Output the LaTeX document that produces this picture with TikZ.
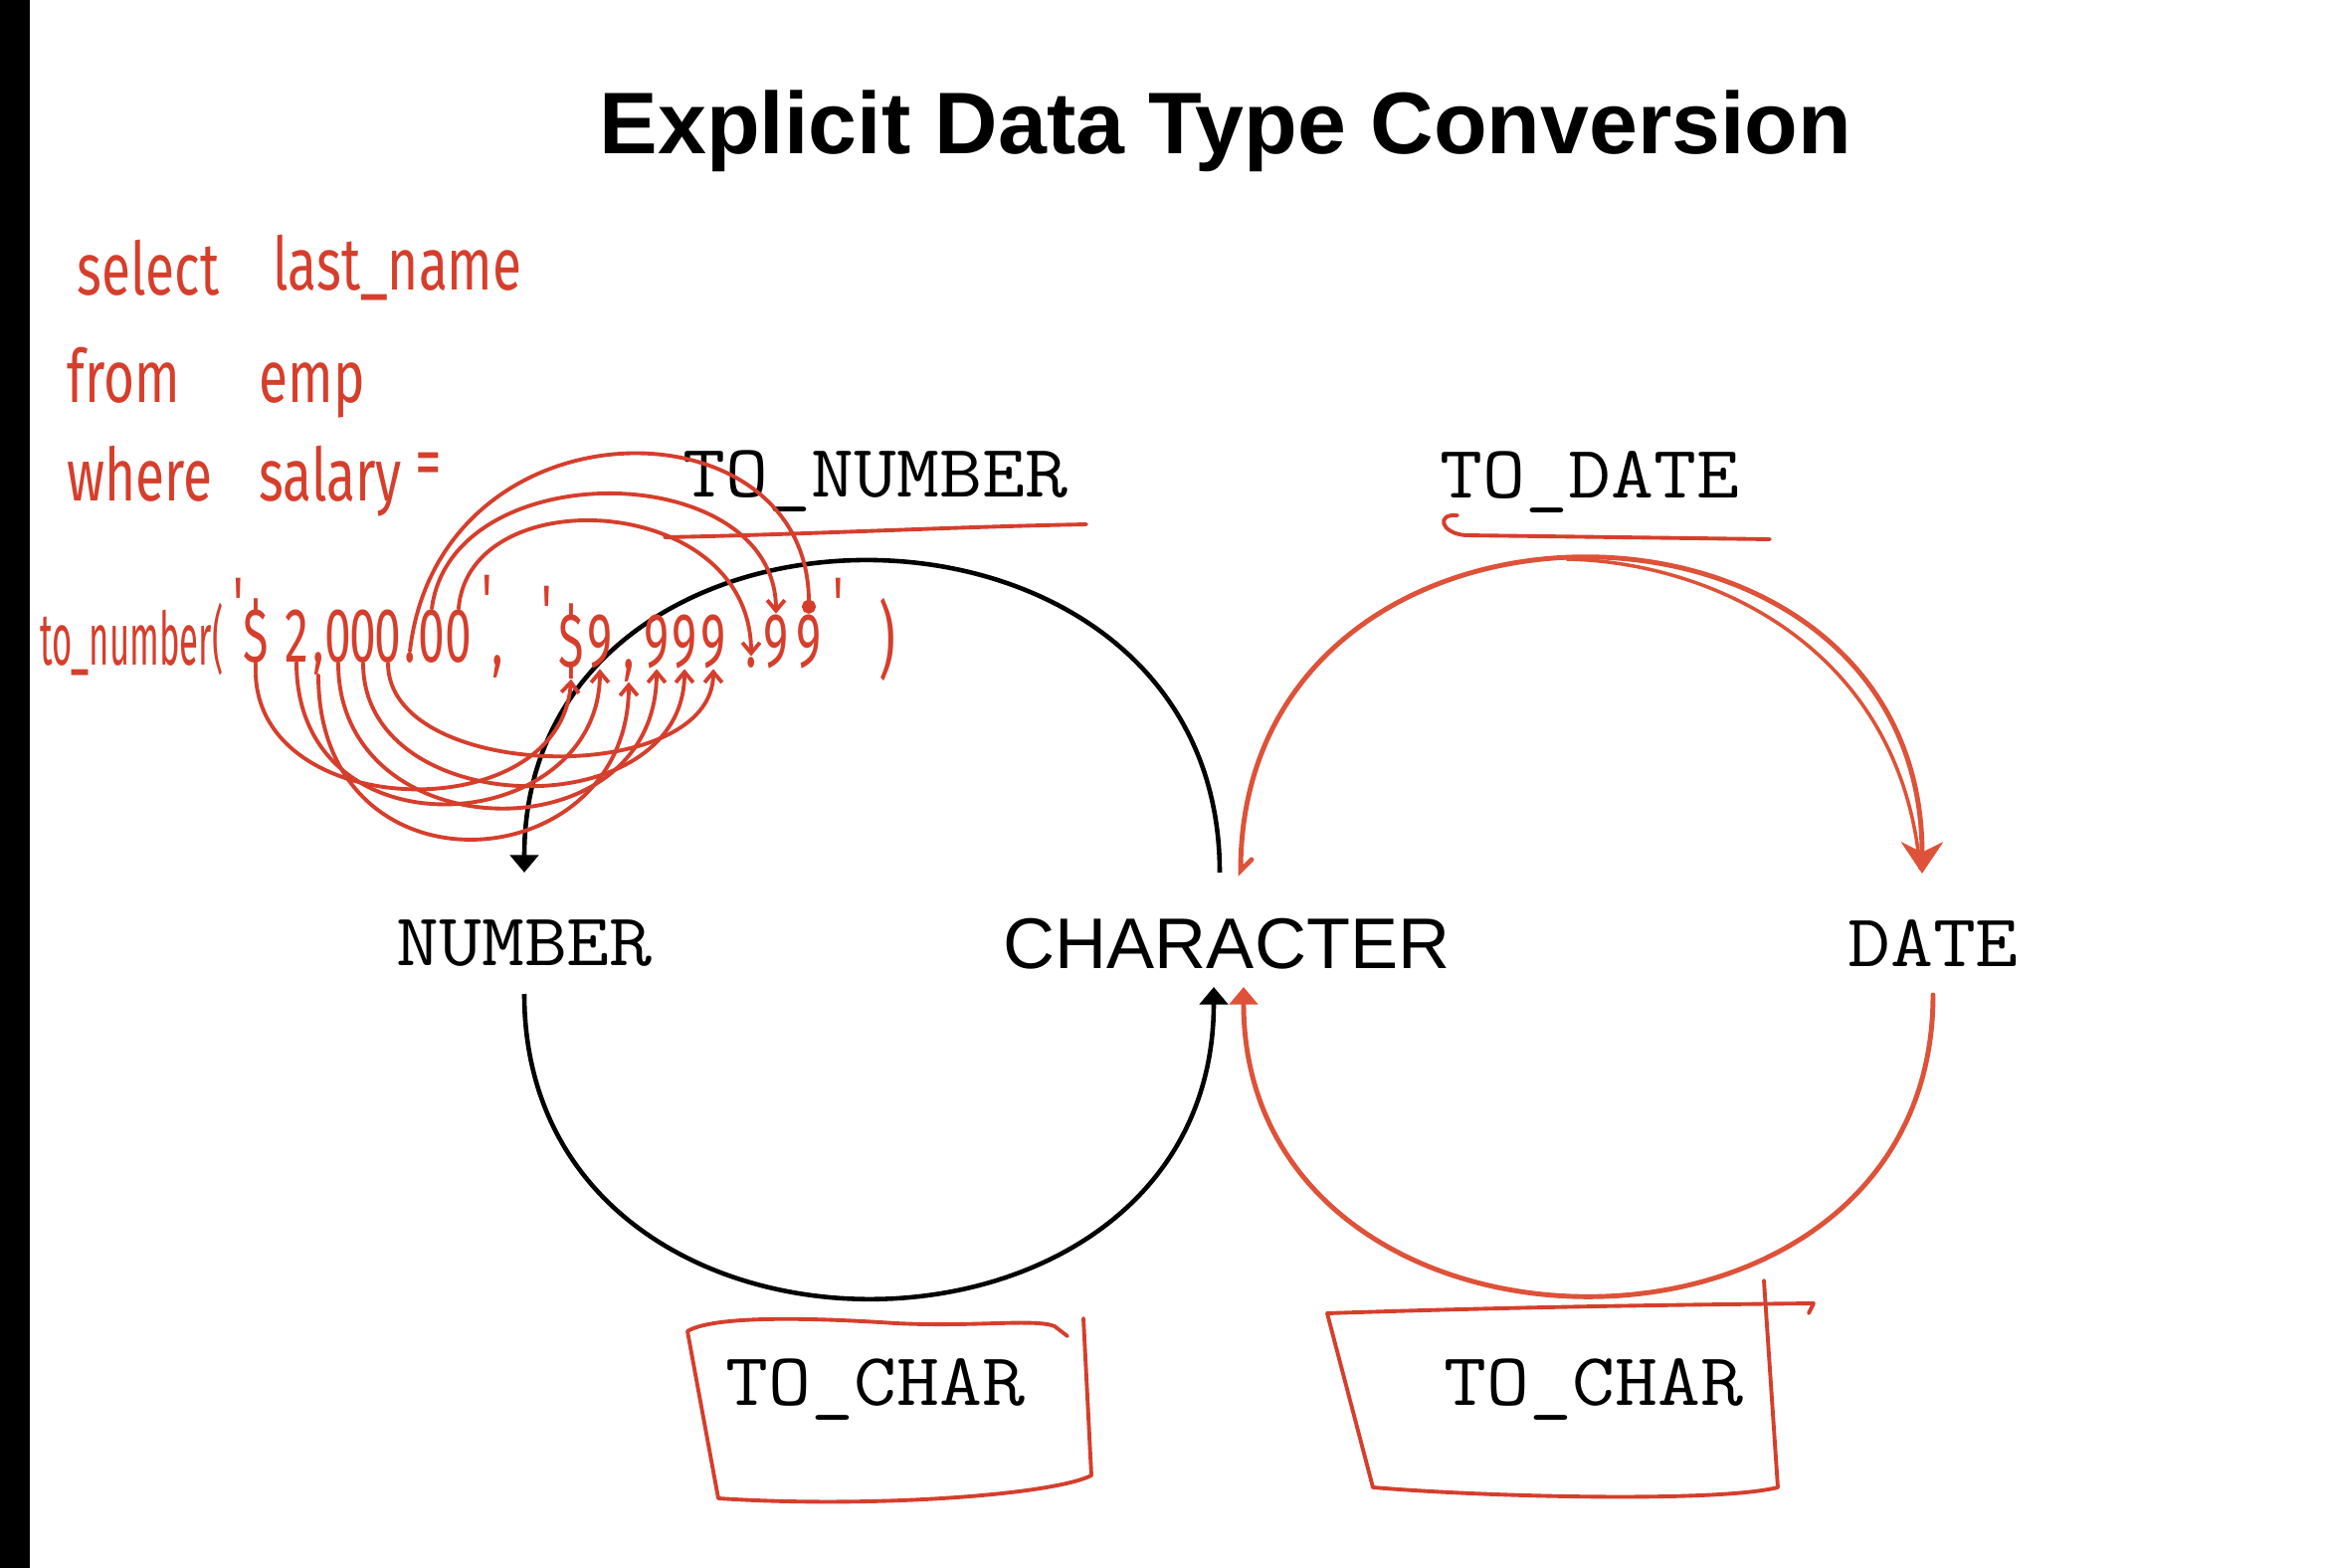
\documentclass[tikz,border=0pt]{standalone}
\usepackage{fontspec}
\usetikzlibrary{arrows.meta,calc}
\newfontfamily\arialfont{Liberation Sans}
\newfontfamily\handfont{Fira Sans}
\definecolor{handred}{RGB}{214,62,44}
\definecolor{arcred}{RGB}{221,82,56}

\begin{document}
\begin{tikzpicture}[x=0.01cm,y=-0.01cm]
    \tikzset{%
      headline/.style={font=\arialfont\bfseries\fontsize{25}{30}\selectfont,
        inner sep=0pt, anchor=base},
      kind/.style={font=\arialfont\fontsize{20.5}{24}\selectfont,
        inner sep=0pt, anchor=base},
      mono/.style={font=\ttfamily\fontsize{23.7}{28}\selectfont,
        inner sep=0pt, anchor=base, yscale=0.9},
      hand/.style={handred, font=\handfont\fontsize{21}{25}\selectfont,
        inner sep=0pt, anchor=base west, xscale=0.72},
      hchar/.style={handred, font=\handfont\fontsize{22}{26}\selectfont,
        inner sep=0pt, anchor=base, xscale=0.62},
      blackarc/.style={line width=1.3pt, -{Triangle[length=5pt,width=8pt]}},
      redarc/.style={arcred, line width=1.4pt, line cap=round},
      handline/.style={handred, line width=1.1pt, line cap=round,
        line join=round},
      handtip/.style={handline, -{Straight Barb[length=3pt,width=5pt]}},
    }
    \fill[white] (0,0) rectangle (2344,1576);
    \fill[black] (0,0) rectangle (30,1576);
    \useasboundingbox (0,0) rectangle (2344,1576);

    \node[headline] (head) at (1232,155) {Explicit Data Type Conversion};

    \node[mono] (tonumber) at (880,499) {TO\_NUMBER};
    \node[mono] (todate) at (1598,501) {TO\_DATE};
    \node[mono] (num) at (527,970) {NUMBER};
    \node[kind] (char) at (1233,973) {CHARACTER};
    \node[mono] (date) at (1943,971) {DATE};
    \node[mono] (tochar) at (880,1412) {TO\_CHAR};
    \node[mono] (tochard) at (1602,1412) {TO\_CHAR};

    % number <-> character
    \draw[blackarc] ($(char.base)+(-7,-96)$) .. controls +(0,-416) and +(0,-416) .. ($(num.base)+(0,-93)$);
    \draw[blackarc] ($(num.base)+(0,29)$) .. controls +(0,411) and +(0,411) .. ($(char.base)+(-13,19)$);

    % character <-> date
    \draw[redarc, -{Stealth[length=9pt,width=12pt]}] ($(char.base)+(25,-109)$) -- ($(char.base)+(14,-98)$)
      .. controls +(0,-419) and +(0,-419) .. ($(date.base)+(-11,-93)$);
    \draw[redarc, line width=1pt] (1575,562) .. controls (1720,565) and (1910,650) .. ($(date.base)+(-13,-98)$);
    \draw[redarc, -{Triangle[length=5pt,width=8pt]}] ($(date.base)+(0,29)$) .. controls +(0,407) and +(0,407) .. ($(char.base)+(17,19)$);

    % underlines and boxes
    \draw[handline] ($(tonumber.base)+(-212,41)$) .. controls +(150,-3) and +(-150,3) .. ($(tonumber.base)+(212,28)$);
    \draw[handline] ($(todate.base)+(-133,17)$) .. controls +(-22,-2) and +(-25,-2) .. ($(todate.base)+(-125,37)$)
      -- ($(todate.base)+(181,41)$);

    \draw[handline] ($(tochar.base)+(-189,-74)$) .. controls +(30,-18) and +(-60,-4) .. ($(tochar.base)+(20,-82)$)
      .. controls +(80,4) and +(-20,-8) .. ($(tochar.base)+(180,-79)$) -- ($(tochar.base)+(193,-69)$);
    \draw[handline] ($(tochar.base)+(209,-87)$) -- ($(tochar.base)+(217,71)$)
      .. controls +(-40,20) and +(150,10) .. ($(tochar.base)+(-158,94)$) -- ($(tochar.base)+(-189,-74)$);

    \draw[handline] ($(tochard.base)+(-268,-92)$) .. controls +(150,-5) and +(-200,2) .. ($(tochard.base)+(221,-102)$)
      -- ($(tochard.base)+(216,-92)$);
    \draw[handline] ($(tochard.base)+(171,-125)$) -- ($(tochard.base)+(185,83)$)
      .. controls +(-60,15) and +(120,10) .. ($(tochard.base)+(-222,83)$) -- ($(tochard.base)+(-268,-92)$);

    % handwritten query
    \node[hand] (sel) at (77,297) {select};
    \node[hand] (lname) at (274,292) {last\_name};
    \node[hand] (from) at (67,405) {from};
    \node[hand] (emp) at (260,405) {emp};
    \node[hand] (where) at (67,503) {where};
    \node[hand] (salary) at (260,503) {salary};
    \node[hand] (eq) at (417,490) {=};
    \node[hand, xscale=0.47/0.72] (tonum) at (40,668) {to\_number(};

    \node[hchar, anchor=north] (q1) at (240,580) {'};
    \node[hchar] (s1) at (257,665) {\$};
    \node[hchar] (s2) at (298,665) {2};
    \node[hchar] (s3) at (320,665) {,};
    \node[hchar] (s4) at (340,665) {0};
    \node[hchar] (s5) at (365,665) {0};
    \node[hchar] (s6) at (390,665) {0};
    \node[hchar] (s7) at (412,665) {.};
    \node[hchar] (s8) at (434,665) {0};
    \node[hchar] (s9) at (461,665) {0};
    \node[hchar, anchor=north] (q2) at (490,577) {'};
    \node[hchar] (sep) at (500,668) {,};
    \node[hchar, anchor=north] (q3) at (550,588) {'};
    \node[hchar] (t1) at (574,670) {\$};
    \node[hchar] (t2) at (603,670) {9};
    \node[hchar] (t3) at (632,672) {,};
    \node[hchar] (t4) at (660,670) {9};
    \node[hchar] (t5) at (688,670) {9};
    \node[hchar] (t6) at (717,670) {9};
    \node[hchar] (t7) at (755,670) {.};
    \node[hchar] (t8) at (780,670) {9};
    \node[hchar] (t9) at (813,670) {9};
    \node[hchar, anchor=north] (q4) at (843,580) {'};
    \node[hchar, anchor=center, font=\handfont\fontsize{24}{28}\selectfont] (close) at (892,643) {)};

    % digit mapping
    \draw[handtip] (s1.south) .. controls +(5,150) and +(-10,150) .. (t1.south);
    \draw[handtip] (s2.south) .. controls +(0,200) and +(0,170) .. (t2.south);
    \draw[handtip] (s3.south) .. controls +(0,230) and +(0,200) .. (t3.south);
    \draw[handtip] (s4.south) .. controls +(0,190) and +(0,190) .. (t4.south);
    \draw[handtip] (s5.south) .. controls +(0,160) and +(0,160) .. (t5.south);
    \draw[handtip] (s6.south) .. controls +(0,120) and +(0,120) .. (t6.south);
    \draw[handline, -{Circle[length=4pt]}] (s7.north) .. controls +(30,-257) and +(0,-218) .. (t9.north);
    \draw[handtip] (s8.north) .. controls +(20,-157) and +(0,-157) .. (t8.north);
    \draw[handtip] (s9.north) .. controls +(10,-131) and +(0,-165) .. (t7.north);
\end{tikzpicture}
\end{document}
